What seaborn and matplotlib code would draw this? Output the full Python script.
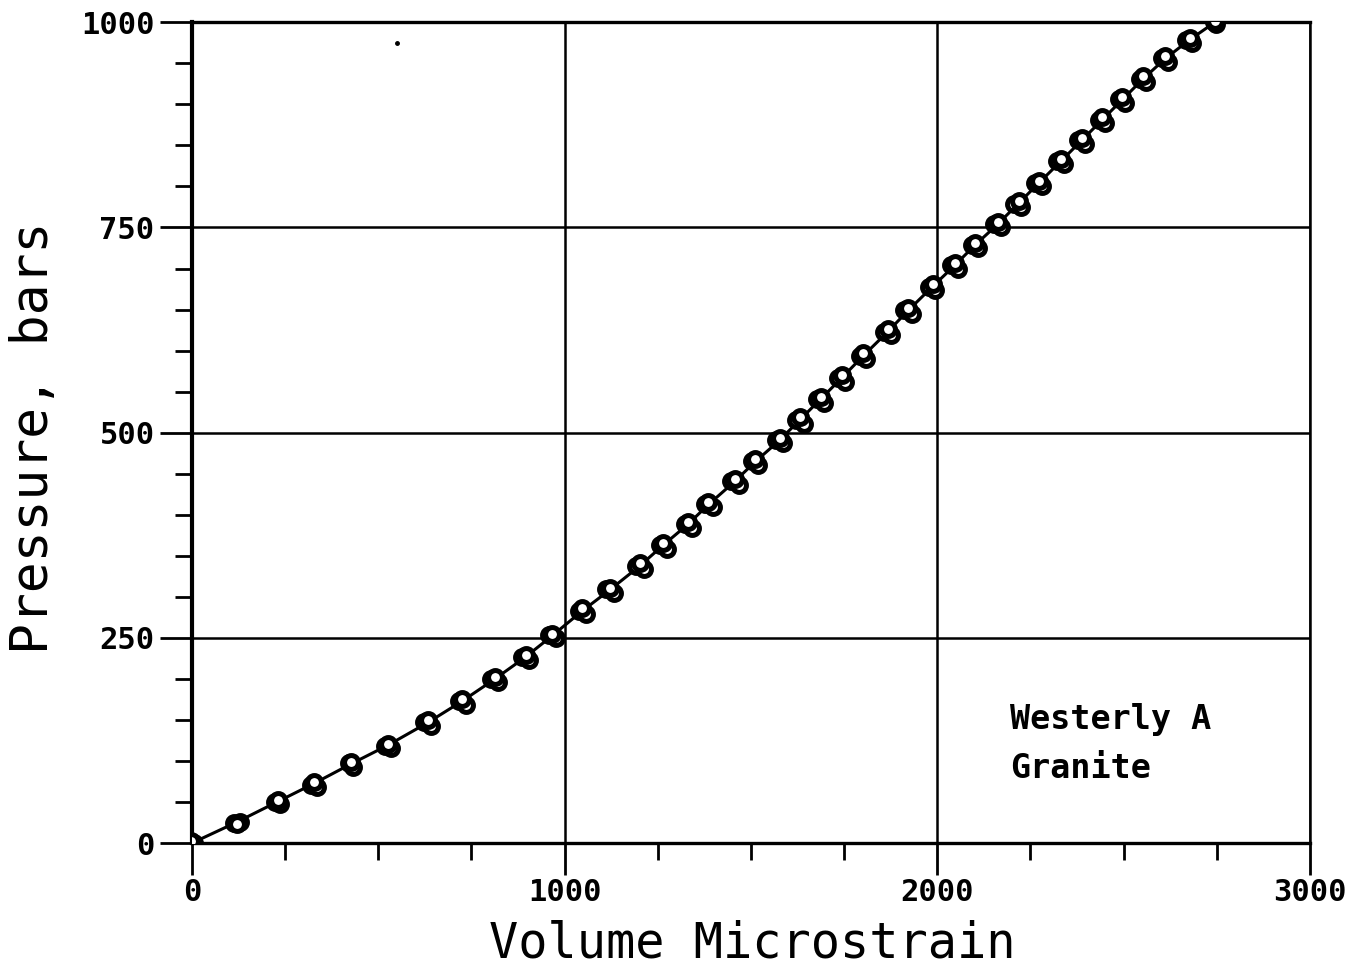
import matplotlib
matplotlib.use("Agg")
import matplotlib.pyplot as plt
from matplotlib.ticker import MultipleLocator, FixedLocator
import seaborn as sns
import pandas as pd

# Fitted pressure-strain curve
curve_strain = [0, 118, 228, 325, 425, 525, 630, 722, 810, 893, 965, 1045, 1120, 1200,
                1262, 1330, 1385, 1455, 1510, 1575, 1630, 1685, 1742, 1800, 1865, 1920,
                1985, 2045, 2100, 2160, 2215, 2270, 2330, 2385, 2440, 2495, 2550, 2610,
                2675, 2745]
curve_pressure = [0, 25, 50, 72, 96, 119, 146, 172, 199, 226, 252, 282, 308, 337, 362, 388,
                  412, 440, 464, 490, 515, 540, 566, 593, 622, 648, 677, 703, 728, 753, 778,
                  803, 830, 855, 880, 905, 930, 955, 978, 1000]

# Measured points, three pressure cycles
run1_pressure = [0, 24, 50, 71, 97, 118, 147, 173, 200, 227, 253, 283, 309, 338, 363, 389,
                 413, 441, 465, 491, 516, 541, 567, 594, 623, 649, 678, 704, 729, 754, 779,
                 804, 831, 856, 881, 906, 931, 956, 979, 1000]
run1_strain = [0, 112, 222, 318, 420, 518, 622, 716, 802, 886, 958, 1038, 1112, 1192, 1255,
               1322, 1378, 1446, 1502, 1566, 1622, 1677, 1734, 1792, 1857, 1912, 1978, 2037,
               2093, 2152, 2207, 2262, 2322, 2378, 2433, 2488, 2543, 2603, 2668, 2742]

run2_pressure = [0, 26, 47, 68, 93, 116, 142, 168, 196, 223, 250, 279, 305, 334, 358, 384,
                 409, 436, 460, 487, 511, 536, 562, 590, 619, 645, 674, 700, 725, 750, 775,
                 800, 827, 852, 877, 902, 927, 952, 975, 998]
run2_strain = [5, 128, 236, 335, 432, 535, 642, 735, 822, 905, 978, 1058, 1132, 1212, 1275,
               1342, 1398, 1467, 1520, 1586, 1642, 1697, 1753, 1810, 1876, 1931, 1995, 2056,
               2110, 2170, 2226, 2280, 2340, 2396, 2450, 2505, 2560, 2620, 2684, 2748]

run3_pressure = [2, 23, 52, 74, 99, 121, 150, 176, 202, 229, 255, 286, 311, 341, 366, 391,
                 416, 443, 468, 494, 519, 543, 570, 597, 626, 652, 681, 707, 731, 757, 782,
                 807, 834, 859, 884, 909, 934, 959, 981, 1001]
run3_strain = [-2, 120, 230, 328, 426, 527, 633, 725, 812, 896, 967, 1047, 1121, 1201, 1264,
               1331, 1386, 1456, 1512, 1577, 1632, 1687, 1745, 1802, 1868, 1922, 1988, 2047,
               2102, 2162, 2218, 2272, 2333, 2388, 2442, 2497, 2552, 2612, 2678, 2746]

x_ticks = [0, 1000, 2000, 3000]
y_ticks = [0, 250, 500, 750, 1000]

points = pd.DataFrame({
    "strain": run1_strain + run2_strain + run3_strain,
    "pressure": run1_pressure + run2_pressure + run3_pressure,
})
curve = pd.DataFrame({"strain": curve_strain, "pressure": curve_pressure})

sns.set_theme(style="ticks")
plt.rcParams["font.family"] = ["DejaVu Sans Mono", "DejaVu Sans"]
plt.rcParams["text.color"] = "black"
plt.rcParams["axes.labelcolor"] = "black"
plt.rcParams["xtick.color"] = "black"
plt.rcParams["ytick.color"] = "black"

fig = plt.figure(figsize=(13.56, 9.69), dpi=100)
ax = fig.add_axes([0.1416, 0.130, 0.966 - 0.1416, 0.847])

sns.lineplot(data=curve, x="strain", y="pressure", ax=ax, color="black",
             linewidth=2.2, sort=False, estimator=None, zorder=3)
sns.scatterplot(data=points, x="strain", y="pressure", ax=ax, marker="o",
                s=100, facecolor="white", edgecolor="black", linewidth=3.6, zorder=4)
ax.plot([550], [975], marker="o", markersize=2.5, color="black", linestyle="none")

ax.set_xlim(0, 3000)
ax.set_ylim(0, 1000)
ax.xaxis.set_major_locator(FixedLocator(x_ticks))
ax.yaxis.set_major_locator(FixedLocator(y_ticks))
ax.xaxis.set_minor_locator(MultipleLocator(250))
ax.yaxis.set_minor_locator(MultipleLocator(50))
ax.set_xticklabels([str(v) for v in x_ticks])
ax.set_yticklabels([str(v) for v in y_ticks])

ax.grid(True, which="major", color="black", linewidth=1.8)
ax.tick_params(axis="both", which="both", bottom=True, left=True, top=False, right=False)
ax.tick_params(axis="both", which="major", direction="out", length=23, width=2.0,
               color="black", labelsize=22, labelcolor="black")
ax.tick_params(axis="both", which="minor", direction="out", length=12, width=2.0,
               color="black")
ax.tick_params(axis="y", which="major", pad=4)
ax.tick_params(axis="x", which="major", pad=2)
for lab in ax.get_xticklabels() + ax.get_yticklabels():
    lab.set_fontweight("bold")

for side, lw in (("left", 3.0), ("bottom", 2.4), ("top", 2.4), ("right", 1.8)):
    ax.spines[side].set_visible(True)
    ax.spines[side].set_color("black")
    ax.spines[side].set_linewidth(lw)

ax.set_xlabel("Volume Microstrain", fontsize=35)
ax.xaxis.label.set_va("baseline")
ax.set_ylabel("Pressure, bars", fontsize=37)
ax.xaxis.set_label_coords(0.501, -0.139)
ax.yaxis.set_label_coords(-0.119, 0.494)

ax.text(2195, 121, "Westerly A\nGranite", fontsize=24, fontweight="bold",
        ha="left", va="center", linespacing=1.6)

fig.savefig("out.png", dpi=100, facecolor="white")
